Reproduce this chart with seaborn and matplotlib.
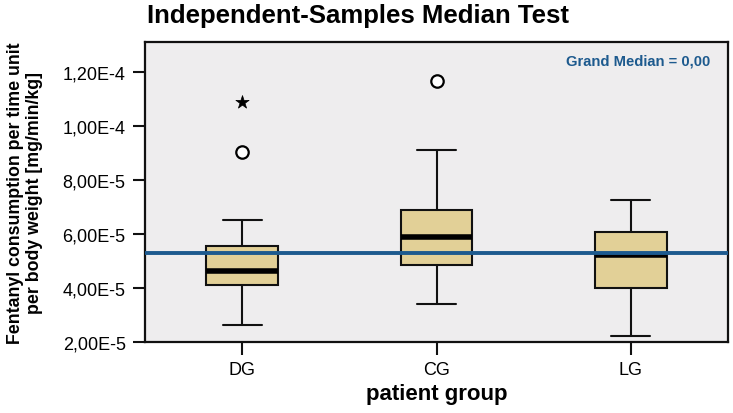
import numpy as np
import pandas as pd
import seaborn as sns
import matplotlib
matplotlib.use('Agg')
import matplotlib.pyplot as plt

# values
groups = ['DG', 'CG', 'LG']
whisker_low = [2.61e-5, 3.40e-5, 2.19e-5]
q1 = [4.10e-5, 4.84e-5, 3.99e-5]
median = [4.62e-5, 5.90e-5, 5.21e-5]
q3 = [5.55e-5, 6.88e-5, 6.09e-5]
whisker_high = [6.51e-5, 9.11e-5, 7.26e-5]

outlier_group = ['DG', 'DG', 'CG']
outlier_value = [9.05e-5, 1.089e-4, 1.169e-4]
outlier_kind = ['mild', 'extreme', 'mild']

grand_median = 5.31e-5
yticks = [2e-5, 4e-5, 6e-5, 8e-5, 1e-4, 1.2e-4]
ytick_labels = ['2,00E-5', '4,00E-5', '6,00E-5', '8,00E-5', '1,00E-4', '1,20E-4']

sns.set_style('ticks')
plt.rcParams['font.family'] = ['Liberation Sans', 'DejaVu Sans']
plt.rcParams['text.color'] = 'black'
plt.rcParams['axes.labelcolor'] = 'black'
plt.rcParams['xtick.color'] = 'black'
plt.rcParams['ytick.color'] = 'black'

fig = plt.figure(figsize=(7.33, 4.14), dpi=100)
ax = fig.add_axes([0.198, 0.1715, 0.795, 0.7245])
ax.set_facecolor('#eeedee')

stats = []
for i, g in enumerate(groups):
    stats.append({'label': g, 'whislo': whisker_low[i], 'q1': q1[i], 'med': median[i],
                  'q3': q3[i], 'whishi': whisker_high[i], 'fliers': []})

ax.bxp(stats, positions=range(len(groups)), widths=0.37, patch_artist=True,
       showfliers=False,
       boxprops=dict(facecolor='#e2d097', edgecolor='#111111', linewidth=1.5),
       medianprops=dict(color='black', linewidth=4, solid_capstyle='butt'),
       whiskerprops=dict(color='#111111', linewidth=1.5),
       capprops=dict(color='#111111', linewidth=1.5),
       capwidths=0.2)

ax.axhline(grand_median, color='#1d5a8e', linewidth=2.8, zorder=5)

# outliers: hollow circle for mild, star for extreme
df_out = pd.DataFrame({'group': outlier_group, 'value': outlier_value, 'kind': outlier_kind})
df_out['pos'] = df_out['group'].map({g: i for i, g in enumerate(groups)})
sns.scatterplot(data=df_out[df_out['kind'] == 'mild'], x='pos', y='value', marker='o',
                s=80, facecolor='white', edgecolor='black', linewidth=1.6,
                ax=ax, legend=False, zorder=7)
sns.scatterplot(data=df_out[df_out['kind'] == 'extreme'], x='pos', y='value', marker='*',
                s=100, color='black', edgecolor='black', linewidth=0.5,
                ax=ax, legend=False, zorder=7)

ax.set_xlim(-0.5, 2.5)
ax.set_ylim(1.985e-5, 1.313e-4)
ax.set_xticks(range(len(groups)))
ax.set_xticklabels(groups, fontsize=13)
ax.set_yticks(yticks)
ax.set_yticklabels(ytick_labels, fontsize=13)
ax.tick_params(axis='both', direction='out', length=9, width=1.5, color='#111111', pad=5)

for s in ax.spines.values():
    s.set_visible(True)
    s.set_linewidth(1.6)
    s.set_color('#111111')

ax.set_xlabel('patient group', fontsize=16, fontweight='bold', labelpad=3)
ax.set_ylabel('Fentanyl consumption per time unit\nper body weight [mg/min/kg]',
              fontsize=12.8, fontweight='bold', labelpad=14)

ax.text(0.969, 0.937, 'Grand Median = 0,00', transform=ax.transAxes, ha='right', va='center',
        color='#1d5a8e', fontsize=10.6, fontweight='bold')

fig.text(0.489, 0.962, 'Independent-Samples Median Test', ha='center', va='center',
         fontsize=18.5, fontweight='bold')

fig.savefig('out.png', dpi=100)
